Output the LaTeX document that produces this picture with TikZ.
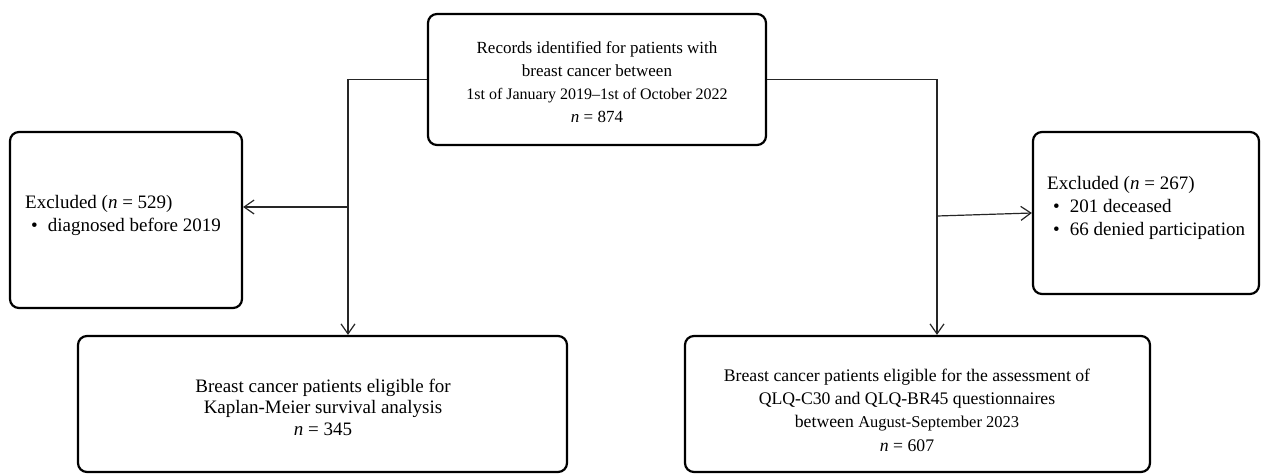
\documentclass[tikz,border=0pt]{standalone}
\usepackage{fontspec}
\setmainfont{Liberation Serif}
\usetikzlibrary{arrows.meta}
\begin{document}
\begin{tikzpicture}[x=1pt,y=-1pt,
  box/.style={draw=black,line width=2.2pt,rounded corners=9pt,inner sep=0pt},
  txt/.style={inner sep=0pt,align=center},
  conn/.style={draw=black!85,line width=1.2pt},
  arr/.style={conn,-{Straight Barb[length=10pt,width=14pt,line width=1.2pt]}}]
\newcommand{\bul}{\hspace*{6pt}\textbullet\hspace{10pt}}
\useasboundingbox (0,0) rectangle (1261,474);
% boxes
\node[box,minimum width=338pt,minimum height=131pt] (top) at (597,79.5) {};
\node[box,minimum width=232pt,minimum height=176pt] (exl) at (126,220) {};
\node[box,minimum width=226pt,minimum height=162pt] (exr) at (1146,213) {};
\node[box,minimum width=489pt,minimum height=136pt] (bl) at (322.5,404) {};
\node[box,minimum width=465pt,minimum height=136pt] (br) at (917.5,404) {};
% texts
\node[txt,font=\fontsize{17}{23}\selectfont] (toptxt) at (597,82)
  {Records identified for patients with\\breast cancer between\\{\fontsize{16}{23}\selectfont 1st of January 2019–1st of October 2022}\\\textit{n} = 874};
\node[txt,align=left,anchor=west,font=\fontsize{19}{23}\selectfont] (exltxt) at (25,215.5)
  {Excluded (\textit{n} = 529)\\\bul diagnosed before 2019};
\node[txt,align=left,anchor=west,font=\fontsize{19}{23}\selectfont] (exrtxt) at (1047,208)
  {Excluded (\textit{n} = 267)\\\bul 201 deceased\\\bul 66 denied participation};
\node[txt,font=\fontsize{19}{21.5}\selectfont] (bltxt) at (323,407)
  {Breast cancer patients eligible for\\Kaplan-Meier survival analysis\\\textit{n} = 345};
\node[txt,font=\fontsize{17.7}{23.3}\selectfont] (brtxt) at (907,410)
  {Breast cancer patients eligible for the assessment of\\QLQ-C30 and QLQ-BR45 questionnaires\\between {\fontsize{16.5}{23.3}\selectfont August-September 2023}\\\textit{n} = 607};
% connectors
\coordinate (cl) at (348,79.5);
\coordinate (jl) at (348,207);
\coordinate (cr) at (937,79.5);
\coordinate (jr) at (937,216);
\draw[arr] (top.west) -- (cl) -- (cl |- bl.north);
\draw[arr] (jl) -- (jl -| exl.east);
\draw[arr] (top.east) -- (cr) -- (cr |- br.north);
\draw[arr] (jr) -- (exr.west);
\end{tikzpicture}
\end{document}
